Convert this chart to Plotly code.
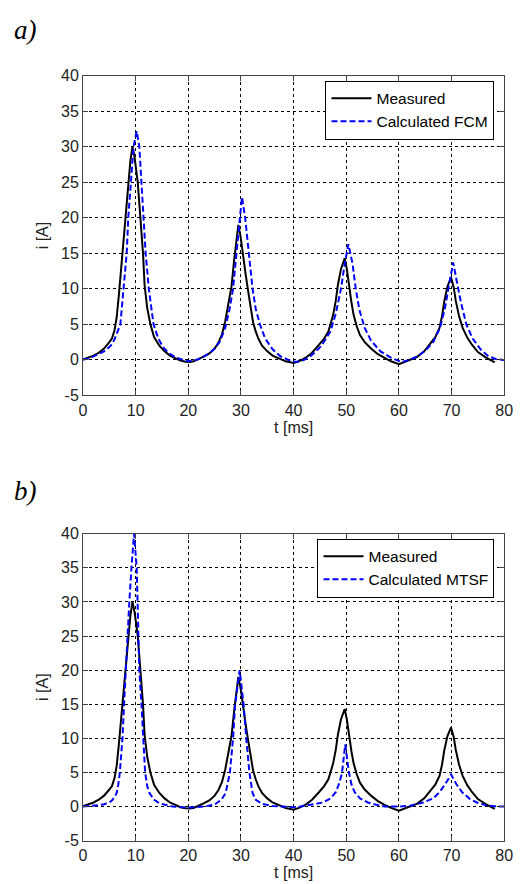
import plotly.graph_objects as go

# ---------------- data ----------------
t_meas = [0, 1, 2, 3, 4, 5, 5.5, 6, 6.4, 6.8, 7.2, 7.6, 8.0, 8.5, 9.0, 9.4, 9.8, 10.4, 10.9,
          11.4, 11.7, 12.2, 12.8, 13.5, 14.5, 15.5, 16.5, 17.5, 18.5, 19.5, 20.3, 21, 22, 23,
          24, 25, 25.7, 26.4, 27, 27.6, 28.2, 28.7, 29.1, 29.5, 29.9, 30.4, 30.9, 31.3, 31.8,
          32.3, 32.8, 33.3, 34, 35, 36, 37.4, 38.5, 40, 41, 42.3, 43.5, 44.8, 45.8, 46.6, 47.5,
          48.0, 48.4, 49.0, 49.7, 50.1, 50.5, 51.0, 51.4, 52.0, 52.6, 53.5, 54.7, 56, 57.2,
          58.5, 60, 61.5, 63.4, 64.8, 65.9, 66.9, 67.7, 68.2, 68.6, 69.2, 69.9, 70.4, 70.8,
          71.4, 72.1, 73, 73.9, 75, 76.4, 77.3, 78.2]
i_meas = [0.05, 0.3, 0.6, 1.0, 1.6, 2.5, 3.0, 4.2, 6.0, 9.0, 12.5, 16.0, 20.0, 24.2, 28.0, 30.0,
          28.5, 25.0, 20.0, 15.0, 10.5, 7.3, 5.0, 3.2, 2.0, 1.2, 0.6, 0.2, -0.1, -0.25, -0.3,
          -0.2, 0.1, 0.5, 0.9, 1.6, 2.4, 3.6, 5.4, 7.6, 10.3, 14.0, 17.0, 19.0, 17.5, 14.5,
          12.0, 10.0, 7.5, 5.3, 4.0, 3.0, 2.0, 1.2, 0.6, 0.1, -0.2, -0.45, -0.2, 0.3, 1.0,
          2.1, 3.0, 4.0, 6.3, 8.3, 10.5, 12.8, 14.3, 12.8, 10.5, 8.0, 6.3, 4.7, 3.5, 2.5, 1.6,
          0.8, 0.3, -0.2, -0.6, -0.2, 0.4, 1.2, 2.2, 3.2, 4.5, 6.2, 8.2, 10.3, 11.6, 10.2,
          8.3, 6.2, 4.5, 3.1, 2.1, 1.1, 0.4, 0.0, -0.35]

t_fcm = [0, 1, 2, 3, 4, 5, 5.5, 6, 6.5, 7.1, 7.7, 8.3, 8.6, 9.1, 9.6, 10.2, 10.7, 11.1, 11.5,
         11.9, 12.5, 13.4, 14.3, 15.2, 16.2, 17.7, 19.9, 21, 22, 23, 24, 25, 26, 27, 27.8,
         28.5, 29.1, 29.8, 30.2, 30.8, 31.5, 32.2, 32.8, 33.6, 34.6, 36, 37.5, 39, 40.5, 42,
         43, 44, 45.3, 47, 48, 49, 49.7, 50.4, 51.2, 51.8, 52.5, 53.5, 54.7, 56.5, 58.5, 60.5,
         62, 63.5, 65, 66.5, 67.8, 68.8, 69.5, 70.3, 71, 71.8, 72.8, 74, 75.5, 77, 78.5, 80]
i_fcm = [0.05, 0.2, 0.5, 0.8, 1.2, 1.8, 2.2, 2.9, 3.8, 5.0, 10.0, 15.0, 20.0, 25.0, 30.0, 32.2,
         30.0, 25.0, 20.0, 15.0, 10.0, 5.0, 3.0, 1.8, 1.0, 0.3, -0.2, -0.1, 0.1, 0.5, 0.9, 1.6,
         2.6, 4.5, 7.0, 10.0, 15.0, 20.0, 22.9, 20.0, 15.0, 10.0, 7.2, 5.0, 3.0, 1.5, 0.5, 0.0,
         -0.3, 0.0, 0.4, 1.0, 2.0, 4.0, 6.5, 10.0, 13.5, 16.3, 13.5, 10.0, 7.0, 4.5, 2.7, 1.2,
         0.3, -0.3, 0.0, 0.5, 1.3, 2.5, 4.5, 7.5, 10.5, 13.7, 11.0, 8.0, 5.0, 3.0, 1.5, 0.5,
         0.1, 0.0]

t_mtsf = [0, 1, 2, 3, 4, 5, 5.5, 6, 6.4, 6.7, 7.0, 7.5, 7.8, 8.1, 8.5, 8.8, 9.2, 9.7, 10.2,
          10.35, 10.5, 10.7, 11.1, 11.4, 11.8, 12.2, 12.6, 13.5, 14.5, 15.4, 17, 20, 23, 25,
          26.3, 27.1, 27.9, 28.5, 28.9, 29.75, 30.5, 31.0, 31.6, 32.2, 32.8, 34, 36, 38, 40,
          41.3, 43, 45.6, 47, 48, 48.7, 49.2, 49.8, 50.5, 51, 51.6, 52.6, 54.1, 55.5, 57.3, 60,
          62, 64.6, 66.5, 67.7, 68.8, 69.9, 70.9, 72.0, 73.5, 74.8, 76.5, 78, 80]
i_mtsf = [0.0, 0.05, 0.1, 0.2, 0.35, 0.6, 0.9, 1.4, 2.0, 3.2, 5.0, 10.0, 15.0, 20.0, 25.0, 30.0,
          35.0, 40.0, 35.0, 30.0, 25.0, 20.0, 15.0, 10.0, 5.0, 3.0, 2.0, 1.0, 0.5, 0.3, 0.0,
          -0.15, 0.0, 0.3, 1.0, 2.0, 5.0, 10.0, 15.0, 20.0, 15.0, 10.0, 5.0, 2.0, 1.0, 0.4,
          0.1, 0.0, -0.1, 0.0, 0.2, 0.6, 1.2, 2.1, 3.5, 5.0, 9.1, 5.0, 3.2, 2.1, 1.2, 0.6, 0.3,
          0.0, 0.0, 0.1, 0.6, 1.2, 2.1, 3.3, 4.7, 3.3, 2.1, 1.1, 0.6, 0.2, 0.05, 0.0]

x_ticks = [0, 10, 20, 30, 40, 50, 60, 70, 80]
y_ticks = [-5, 0, 5, 10, 15, 20, 25, 30, 35, 40]

# ---------------- figure ----------------
W, H = 523, 884
FONT = "Liberation Sans, Arial, sans-serif"
TXT = "#222"

fig = go.Figure()
fig.add_trace(go.Scatter(x=t_meas, y=i_meas, mode="lines", name="Measured",
                         line=dict(color="black", width=2), xaxis="x", yaxis="y",
                         legend="legend"))
fig.add_trace(go.Scatter(x=t_fcm, y=i_fcm, mode="lines", name="Calculated FCM",
                         line=dict(color="#0000ff", width=2, dash="6px,3px"),
                         xaxis="x", yaxis="y", legend="legend"))
fig.add_trace(go.Scatter(x=t_meas, y=i_meas, mode="lines", name="Measured",
                         line=dict(color="black", width=2), xaxis="x2", yaxis="y2",
                         legend="legend2"))
fig.add_trace(go.Scatter(x=t_mtsf, y=i_mtsf, mode="lines", name="Calculated MTSF",
                         line=dict(color="#0000ff", width=2, dash="6px,3px"),
                         xaxis="x2", yaxis="y2", legend="legend2"))

xd = [81 / W, 513 / W]
yd1 = [1 - 395 / H, 1 - 69 / H]
yd2 = [1 - 849 / H, 1 - 536 / H]

common = dict(showline=True, linecolor="#444", linewidth=1, mirror="ticks",
              ticks="inside", ticklen=5, tickcolor="#444",
              showgrid=True, gridcolor="black", griddash="dot", gridwidth=1,
              zeroline=False, tickfont=dict(family=FONT, size=16, color=TXT))

xcommon = dict(common, range=[0, 80], tickvals=x_ticks, ticktext=[str(v) for v in x_ticks])
ycommon = dict(common, range=[-5, 40], tickvals=y_ticks, ticktext=[str(v) for v in y_ticks])

title_font = dict(family=FONT, size=16, color=TXT)

fig.update_layout(
    width=W, height=H, margin=dict(l=0, r=0, t=0, b=0),
    paper_bgcolor="white", plot_bgcolor="white",
    xaxis=dict(xcommon, domain=xd, anchor="y",
               title=dict(text="t [ms]", font=title_font, standoff=0)),
    yaxis=dict(ycommon, domain=yd1, anchor="x",
               title=dict(text="i [A]", font=title_font, standoff=8)),
    xaxis2=dict(xcommon, domain=xd, anchor="y2",
                title=dict(text="t [ms]", font=title_font, standoff=0)),
    yaxis2=dict(ycommon, domain=yd2, anchor="x2",
                title=dict(text="i [A]", font=title_font, standoff=8)),
    legend=dict(x=503 / W, y=1 - 74 / H, xanchor="right", yanchor="top",
                bgcolor="white", bordercolor="black", borderwidth=1,
                font=dict(family=FONT, size=15.5, color="black"),
                tracegroupgap=0, itemwidth=40),
    legend2=dict(x=503 / W, y=1 - 541 / H, xanchor="right", yanchor="top",
                 bgcolor="white", bordercolor="black", borderwidth=1,
                 font=dict(family=FONT, size=15.5, color="black"),
                 tracegroupgap=0, itemwidth=40),
    annotations=[
        dict(text="<i>a)</i>", x=8 / W, y=1 - 22 / H, xref="paper", yref="paper",
             xanchor="left", yanchor="middle", showarrow=False,
             font=dict(family="Liberation Serif, Times New Roman, serif", size=27,
                       color="black")),
        dict(text="<i>b)</i>", x=8 / W, y=1 - 492 / H, xref="paper", yref="paper",
             xanchor="left", yanchor="middle", showarrow=False,
             font=dict(family="Liberation Serif, Times New Roman, serif", size=27,
                       color="black")),
    ],
)

fig.write_html("out.html")
